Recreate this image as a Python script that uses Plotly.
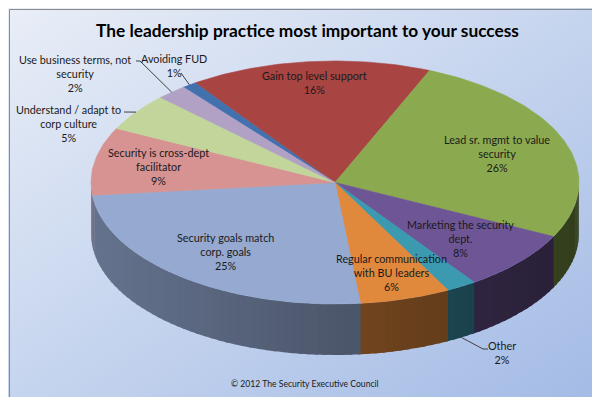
import base64
import math
import plotly.graph_objects as go

# ---------------- data ----------------
categories = [
    "Avoiding FUD",
    "Gain top level support",
    "Lead sr. mgmt to value security",
    "Marketing the security dept.",
    "Other",
    "Regular communication with BU leaders",
    "Security goals match corp. goals",
    "Security is cross-dept facilitator",
    "Understand / adapt to corp culture",
    "Use business terms, not security",
]
values = [1, 16, 26, 8, 2, 6, 25, 9, 5, 2]
title_text = "The leadership practice most important to your success"
footnote_text = "© 2012 The Security Executive Council"

# ---------------- style / layout ----------------
W, H = 600, 397
CX, CY, RX, RY, DEPTH = 327.0, 174.5, 244.0, 121.5, 51.0
START_ANGLE = -38.4  # degrees, clockwise from 12 o'clock

top_colors = ["#4271AE", "#A84442", "#8BAA4F", "#6E5596", "#3B9AB0",
              "#E0883C", "#95A9D1", "#D69391", "#C2D59B", "#B0A1C5"]

label_wrap = {
    "Lead sr. mgmt to value security": "Lead sr. mgmt to value<br>security",
    "Marketing the security dept.": "Marketing the security<br>dept.",
    "Regular communication with BU leaders": "Regular communication<br>with BU leaders",
    "Security goals match corp. goals": "Security goals match<br>corp. goals",
    "Security is cross-dept facilitator": "Security is cross-dept<br>facilitator",
    "Understand / adapt to corp culture": "Understand / adapt to<br>corp culture",
    "Use business terms, not security": "Use business terms, not<br>security",
}
label_pos = {
    "Avoiding FUD": (166, 57),
    "Gain top level support": (306, 74),
    "Lead sr. mgmt to value security": (489, 145),
    "Marketing the security dept.": (452, 230),
    "Other": (494, 344),
    "Regular communication with BU leaders": (383, 264),
    "Security goals match corp. goals": (217, 243),
    "Security is cross-dept facilitator": (150, 158),
    "Understand / adapt to corp culture": (60, 115),
    "Use business terms, not security": (67, 65),
}
# leader-line anchor points near the labels; final point is taken from slice geometry
leader_anchor = {
    "Avoiding FUD": ([173], [65], False),
    "Use business terms, not security": ([128, 132], [53, 53], False),
    "Understand / adapt to corp culture": ([116, 120], [104, 104], False),
    "Other": ([480, 475], [341, 341], True),
}
FONT = "Lato"


def pt(theta, dy=0.0):
    t = math.radians(theta)
    return CX + RX * math.sin(t), CY - RY * math.cos(t) + dy


def shade(hexcol, f):
    h = hexcol.lstrip("#")
    r, g, b = (int(h[i:i + 2], 16) for i in (0, 2, 4))
    return "rgb(%d,%d,%d)" % (round(r * f), round(g * f), round(b * f))


total = float(sum(values))
angles = []
a = START_ANGLE
for v in values:
    b = a + 360.0 * v / total
    angles.append((a, b))
    a = b

fig = go.Figure()

# side walls (front half only), drawn in overlapping thin strips for shading
for i, (a0, a1) in enumerate(angles):
    lo, hi = max(a0, 90.0), min(a1, 270.0)
    if hi <= lo:
        continue
    n = max(1, int(math.ceil((hi - lo) / 2.0)))
    for k in range(n):
        t0 = lo + (hi - lo) * k / n
        t1 = lo + (hi - lo) * (k + 1) / n
        t1e = min(t1 + 0.6, 270.0)
        xs, ys = [], []
        for t in (t0, (t0 + t1e) / 2, t1e):
            x, y = pt(t)
            xs.append(x); ys.append(y)
        for t in (t1e, (t0 + t1e) / 2, t0):
            x, y = pt(t, DEPTH)
            xs.append(x); ys.append(y)
        tm = math.radians((t0 + t1) / 2)
        col = shade(top_colors[i], 0.52 - 0.16 * math.sin(tm))
        fig.add_trace(go.Scatter(x=xs, y=ys, mode="lines", fill="toself",
                                 fillcolor=col, line=dict(color=col, width=0),
                                 hoverinfo="skip", showlegend=False))

# top faces
for i, (a0, a1) in enumerate(angles):
    n = max(2, int(math.ceil((a1 - a0) / 1.0)))
    xs, ys = [CX], [CY]
    for k in range(n + 1):
        x, y = pt(a0 + (a1 - a0) * k / n)
        xs.append(x); ys.append(y)
    xs.append(CX); ys.append(CY)
    fig.add_trace(go.Scatter(x=xs, y=ys, mode="lines", fill="toself",
                             fillcolor=top_colors[i],
                             line=dict(color=top_colors[i], width=0.6),
                             hoverinfo="skip", showlegend=False,
                             name=categories[i]))

# leader lines
for cat, (lx, ly, on_side) in leader_anchor.items():
    i = categories.index(cat)
    a0, a1 = angles[i]
    ex, ey = pt((a0 + a1) / 2, DEPTH if on_side else 0.0)
    fig.add_trace(go.Scatter(x=list(lx) + [ex], y=list(ly) + [ey], mode="lines",
                             line=dict(color="#404040", width=1),
                             hoverinfo="skip", showlegend=False))

# data labels
for cat, v in zip(categories, values):
    x, y = label_pos[cat]
    fig.add_annotation(x=x, y=y, xref="x", yref="y", showarrow=False,
                       text="%s<br>%d%%" % (label_wrap.get(cat, cat), v),
                       font=dict(family=FONT, size=10.8, color="#1a1a1a"),
                       align="center", xanchor="center", yanchor="middle")

fig.add_annotation(x=299, y=22, xref="x", yref="y", showarrow=False,
                   text="<b>%s</b>" % title_text,
                   font=dict(family=FONT, size=17.3, color="#000000"),
                   xanchor="center", yanchor="middle")
fig.add_annotation(x=297, y=376, xref="x", yref="y", showarrow=False,
                   text=footnote_text,
                   font=dict(family=FONT, size=8.6, color="#1a1a1a"),
                   xanchor="center", yanchor="middle")

svg = ('<svg xmlns="http://www.w3.org/2000/svg" width="600" height="397" '
       'preserveAspectRatio="none"><defs><linearGradient id="g" x1="0" y1="0" '
       'x2="1" y2="1"><stop offset="0" stop-color="#E9EEF7"/>'
       '<stop offset="0.5" stop-color="#C5D4EE"/>'
       '<stop offset="1" stop-color="#A2BAE5"/></linearGradient></defs>'
       '<rect width="600" height="397" fill="url(#g)"/></svg>')
src = "data:image/svg+xml;base64," + base64.b64encode(svg.encode()).decode()

fig.update_layout(
    width=W, height=H,
    margin=dict(l=0, r=0, t=0, b=0),
    paper_bgcolor="white",
    plot_bgcolor="rgba(0,0,0,0)",
    xaxis=dict(range=[0, W], visible=False, fixedrange=True),
    yaxis=dict(range=[H, 0], visible=False, fixedrange=True),
    images=[dict(source=src, xref="paper", yref="paper", x=0, y=1,
                 sizex=1, sizey=1, xanchor="left", yanchor="top",
                 sizing="stretch", layer="below")],
    shapes=[dict(type="rect", xref="x", yref="y", x0=1.5, y0=1.5, x1=597.5,
                 y1=395, line=dict(color="#8a8a8a", width=1))],
    showlegend=False,
)

fig.write_html("out.html")
